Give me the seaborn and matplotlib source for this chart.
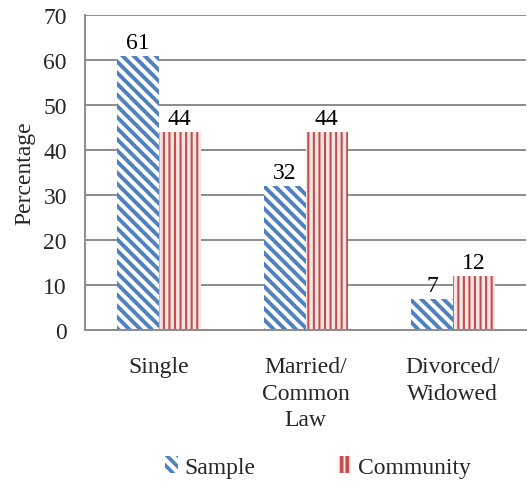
import matplotlib
matplotlib.use("Agg")
import matplotlib.pyplot as plt
from matplotlib.patches import Patch
import seaborn as sns
import pandas as pd

categories = ["Single", "Married/\nCommon\nLaw", "Divorced/\nWidowed"]
sample_pct = [61, 32, 7]
community_pct = [44, 44, 12]
series_names = ["Sample", "Community"]
y_ticks = [0, 10, 20, 30, 40, 50, 60, 70]

blue = "#4F81BD"
red = "#C0504D"
grey = "#8C8C8C"
fs = 17

df = pd.DataFrame({
    "category": categories * 2,
    "value": sample_pct + community_pct,
    "series": [series_names[0]] * 3 + [series_names[1]] * 3,
})

sns.set_style("white")
plt.rcParams["font.family"] = ["Liberation Serif", "DejaVu Serif"]
plt.rcParams["hatch.linewidth"] = 2.6

fig = plt.figure(figsize=(5.27, 4.85), dpi=100)
ax = fig.add_axes([85 / 527, 1 - 331 / 485, (527 - 85) / 527 - 0.001, (331 - 16) / 485])

sns.barplot(data=df, x="category", y="value", hue="series", order=categories,
            hue_order=series_names, width=0.57, gap=0, ax=ax,
            palette=[blue, red], legend=False, errorbar=None)

# face colour, stripe colour, hatch pattern, stripe width
styles = {series_names[0]: ("white", blue, "\\\\\\", 2.8),
          series_names[1]: ("#F7E4E4", red, "|||", 1.5)}


def apply_style(patch, name):
    face, hatch_col, hatch, hlw = styles[name]
    patch.set_facecolor(face)
    patch.set_edgecolor(hatch_col)
    patch.set_hatch(hatch)
    patch.set_linewidth(0)
    if hasattr(patch, "set_hatch_linewidth"):
        patch.set_hatch_linewidth(hlw)


for cont, name in zip(ax.containers, series_names):
    for bar in cont:
        apply_style(bar, name)
    ax.bar_label(cont, labels=[f"{v:g}" for v in cont.datavalues],
                 padding=2, fontsize=fs, color="black")

ax.set_xlim(-0.5, 2.5)
ax.set_ylim(0, 70)
ax.set_yticks(y_ticks)
ax.yaxis.grid(True, color=grey, linewidth=1.4)
ax.set_axisbelow(True)

ax.set_xticks(range(3))
ax.set_xticklabels(categories, fontsize=fs, linespacing=1.33)
ax.set_xticks([-0.5, 0.5, 1.5, 2.5], minor=True)
ax.tick_params(axis="x", which="major", length=0, pad=19)
ax.tick_params(axis="x", which="minor", length=7, width=1.4, color=grey)
ax.tick_params(axis="y", length=6, width=1.4, color=grey, labelsize=fs, pad=7)

ax.set_xlabel("")
ax.set_ylabel("Percentage", fontsize=fs, labelpad=6)

for side in ["top", "right"]:
    ax.spines[side].set_visible(False)
for side in ["left", "bottom"]:
    ax.spines[side].set_color(grey)
    ax.spines[side].set_linewidth(1.4)

handles = []
for n in series_names:
    p = Patch(label=n)
    apply_style(p, n)
    handles.append(p)
fig.legend(handles=handles, loc="center", bbox_to_anchor=(318 / 527, 1 - 468 / 485),
           ncol=2, frameon=False, fontsize=fs, handlelength=0.55, handleheight=0.75,
           handletextpad=0.3, columnspacing=3.5)

fig.savefig("out.png", dpi=100)
